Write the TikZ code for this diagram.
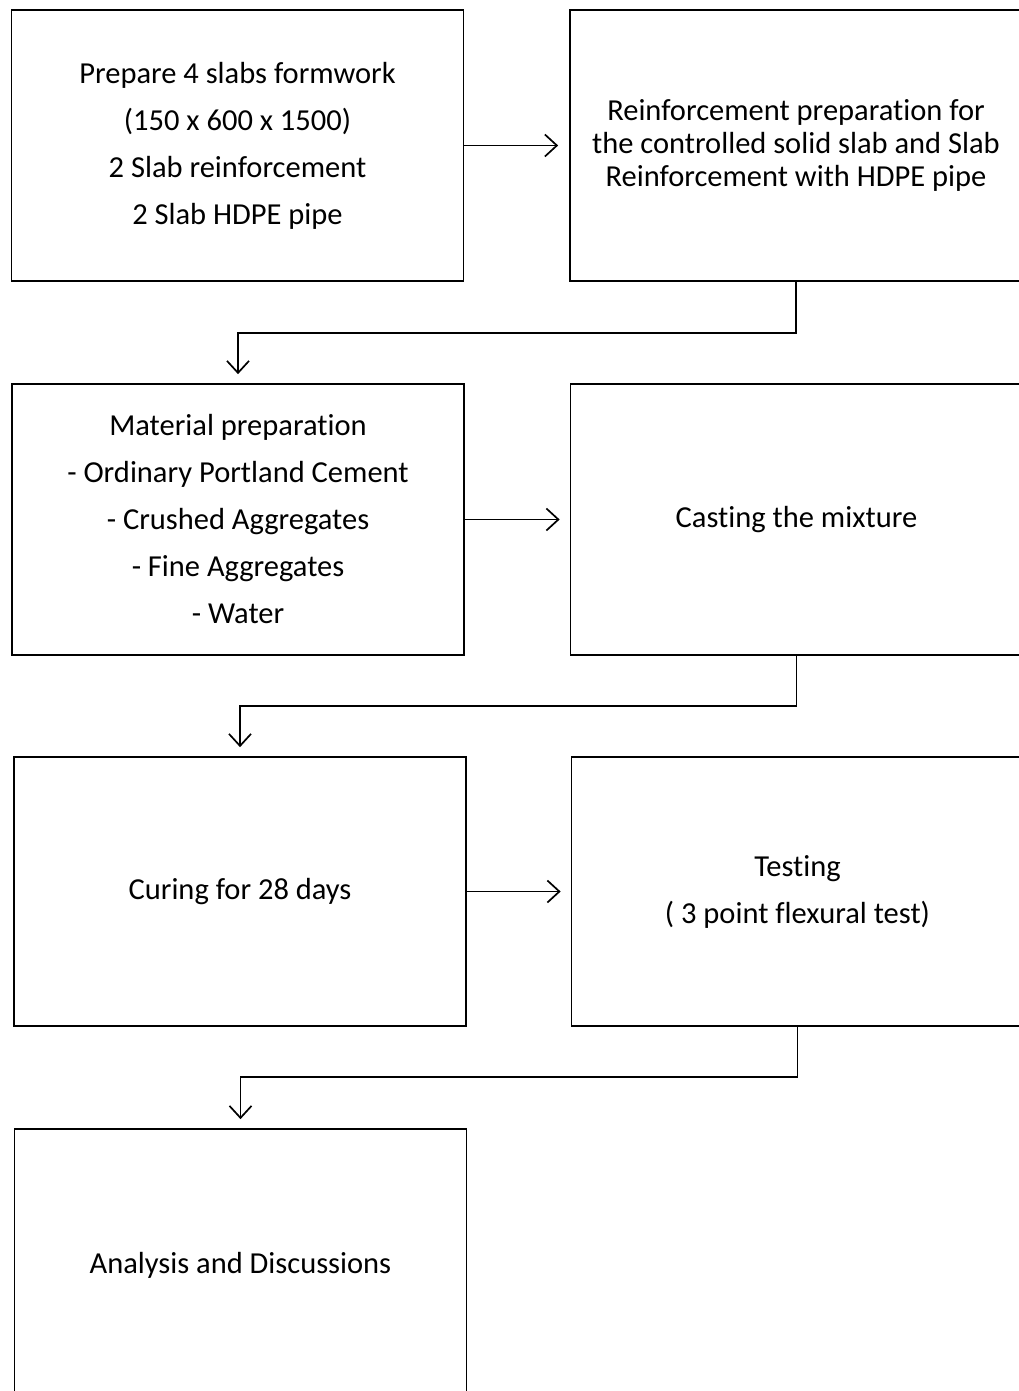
\documentclass[tikz,border=0pt]{standalone}
\usepackage{fontspec}
\setmainfont{Carlito}[Ligatures=NoCommon]
\usetikzlibrary{arrows.meta}
\begin{document}
\begin{tikzpicture}[x=1pt,y=-1pt,
  box/.style={draw,line width=1.7pt,rectangle,minimum width=452pt,minimum height=271pt,
    inner sep=0pt,align=center,font=\fontsize{30.5}{47}\selectfont},
  flow/.style={line width=1.7pt,-{Straight Barb[length=12pt,width=22pt,line width=1.7pt]}}]
\useasboundingbox (0,0) rectangle (1019,1391);
\clip (0,0) rectangle (1019,1391);
\node[box] (b1) at (237.5,145.5) {Prepare 4 slabs formwork\\(150 x 600 x 1500)\\2 Slab reinforcement\\2 Slab HDPE pipe};
\node[box,font=\fontsize{30.5}{33}\selectfont] (b2) at (796,145.5) {Reinforcement preparation for\\the controlled solid slab and Slab\\Reinforcement with HDPE pipe};
\node[box] (b3) at (238,519.5) {Material preparation\\- Ordinary Portland Cement\\- Crushed Aggregates\\- Fine Aggregates\\- Water};
\node[box] (b4) at (796.5,519.5) {Casting the mixture};
\node[box,minimum height=269pt] (b5) at (240,891.5) {Curing for 28 days};
\node[box,minimum height=269pt] (b6) at (797.5,891.5) {Testing\\( 3 point flexural test)};
\node[box,minimum height=272pt] (b7) at (240.5,1265) {Analysis and Discussions};
\draw[flow,shorten >=11pt] (b1.east) -- (b2.west);
\draw[flow,shorten >=10pt] (b3.east) -- (b4.west);
\draw[flow,shorten >=10pt] (b5.east) -- (b6.west);
\draw[flow,shorten >=9pt] (b2.south) -- ++(0,51) -| (b3.north);
\draw[flow,shorten >=9pt] (b4.south) -- ++(0,50) -| (b5.north);
\draw[flow,shorten >=9pt] (b6.south) -- ++(0,50) -| (b7.north);
\end{tikzpicture}
\end{document}
